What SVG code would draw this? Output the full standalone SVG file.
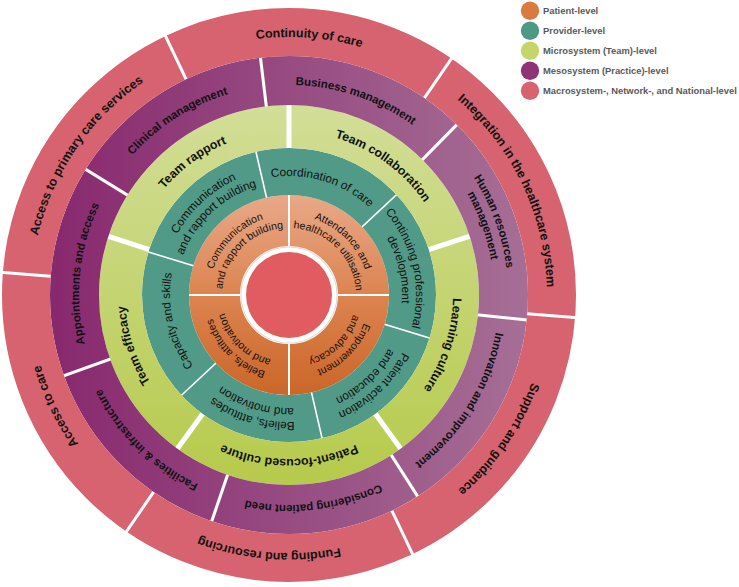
<svg xmlns="http://www.w3.org/2000/svg" width="739" height="587" viewBox="0 0 739 587">
<style>
.rO{fill:none;stroke:url(#gO);stroke-width:51}
.rT{fill:none;stroke:#519A88;stroke-width:47}
.rY{fill:none;stroke:url(#gY);stroke-width:43}
.rP{fill:none;stroke:url(#gP);stroke-width:49}
.rK{fill:none;stroke:#D6636F;stroke-width:48}
text{font-family:'Liberation Sans',Arial,sans-serif;fill:#111;text-anchor:middle}
.tO{font-size:10.6px}
.tT{font-size:11.8px}
.tY{font-size:12.4px;font-weight:bold}
.tP{font-size:11.5px;font-weight:bold}
.tK{font-size:12.5px;font-weight:bold}
.lg{font-size:9.4px;font-weight:bold;fill:#595959;text-anchor:start}
</style>
<defs>
<linearGradient id="gO" gradientUnits="userSpaceOnUse" x1="0" y1="195" x2="0" y2="395"><stop offset="0" stop-color="#E9A888"/><stop offset="0.5" stop-color="#DC8450"/><stop offset="1" stop-color="#CB6628"/></linearGradient>
<linearGradient id="gY" gradientUnits="userSpaceOnUse" x1="0" y1="105" x2="0" y2="485"><stop offset="0" stop-color="#D2DE97"/><stop offset="1" stop-color="#B6CA4B"/></linearGradient>
<linearGradient id="gP" gradientUnits="userSpaceOnUse" x1="50" y1="0" x2="530" y2="0"><stop offset="0" stop-color="#88286E"/><stop offset="1" stop-color="#A66F96"/></linearGradient>
<path id="wO" d="M0,-1.41 L-353.6,-355 L353.6,-355 Z"/>
<path id="wT" d="M0,-1.6 L-250,-434.6 L250,-434.6 Z"/>
<path id="wY" d="M0,-4.25 L-293.9,-408.8 L293.9,-408.8 Z"/>
<path id="wP" d="M0,-3.46 L-216.9,-454 L216.9,-454 Z"/>
<path id="wK" d="M0,-3 L-250,-436 L250,-436 Z"/>
<clipPath id="cO1"><use href="#wO" transform="translate(289,295) rotate(315)"/></clipPath>
<clipPath id="cO2"><use href="#wO" transform="translate(289,295) rotate(45)"/></clipPath>
<clipPath id="cO3"><use href="#wO" transform="translate(289,295) rotate(135)"/></clipPath>
<clipPath id="cO4"><use href="#wO" transform="translate(289,295) rotate(225)"/></clipPath>
<clipPath id="cT1"><use href="#wT" transform="translate(289,295) rotate(317)"/></clipPath>
<clipPath id="cT2"><use href="#wT" transform="translate(289,295) rotate(17)"/></clipPath>
<clipPath id="cT3"><use href="#wT" transform="translate(289,295) rotate(77)"/></clipPath>
<clipPath id="cT4"><use href="#wT" transform="translate(289,295) rotate(137)"/></clipPath>
<clipPath id="cT5"><use href="#wT" transform="translate(289,295) rotate(197)"/></clipPath>
<clipPath id="cT6"><use href="#wT" transform="translate(289,295) rotate(257)"/></clipPath>
<clipPath id="cY1"><use href="#wY" transform="translate(289,295) rotate(324)"/></clipPath>
<clipPath id="cY2"><use href="#wY" transform="translate(289,295) rotate(36)"/></clipPath>
<clipPath id="cY3"><use href="#wY" transform="translate(289,295) rotate(108)"/></clipPath>
<clipPath id="cY4"><use href="#wY" transform="translate(289,295) rotate(180)"/></clipPath>
<clipPath id="cY5"><use href="#wY" transform="translate(289,295) rotate(252)"/></clipPath>
<clipPath id="cP1"><use href="#wP" transform="translate(289,295) rotate(327.43)"/></clipPath>
<clipPath id="cP2"><use href="#wP" transform="translate(289,295) rotate(18.86)"/></clipPath>
<clipPath id="cP3"><use href="#wP" transform="translate(289,295) rotate(70.29)"/></clipPath>
<clipPath id="cP4"><use href="#wP" transform="translate(289,295) rotate(121.71)"/></clipPath>
<clipPath id="cP5"><use href="#wP" transform="translate(289,295) rotate(173.14)"/></clipPath>
<clipPath id="cP6"><use href="#wP" transform="translate(289,295) rotate(224.57)"/></clipPath>
<clipPath id="cP7"><use href="#wP" transform="translate(289,295) rotate(276)"/></clipPath>
<clipPath id="cK1"><use href="#wK" transform="translate(289,295) rotate(4.5)"/></clipPath>
<clipPath id="cK2"><use href="#wK" transform="translate(289,295) rotate(64.5)"/></clipPath>
<clipPath id="cK3"><use href="#wK" transform="translate(289,295) rotate(124.5)"/></clipPath>
<clipPath id="cK4"><use href="#wK" transform="translate(289,295) rotate(184.5)"/></clipPath>
<clipPath id="cK5"><use href="#wK" transform="translate(289,295) rotate(244.5)"/></clipPath>
<clipPath id="cK6"><use href="#wK" transform="translate(289,295) rotate(304.5)"/></clipPath>
<path id="r67" d="M-67,0 A67,67 0 0 1 67,0"/>
<path id="r80" d="M-80,0 A80,80 0 0 1 80,0"/>
<path id="r113" d="M-113,0 A113,113 0 0 1 113,0"/>
<path id="r119" d="M-119,0 A119,119 0 0 1 119,0"/>
<path id="r127" d="M-127,0 A127,127 0 0 1 127,0"/>
<path id="r164" d="M-164,0 A164,164 0 0 1 164,0"/>
<path id="r205" d="M-205,0 A205,205 0 0 1 205,0"/>
<path id="r210" d="M-210,0 A210,210 0 0 1 210,0"/>
<path id="r219" d="M-219,0 A219,219 0 0 1 219,0"/>
<path id="r258" d="M-258,0 A258,258 0 0 1 258,0"/>
</defs>

<g id="center">
<circle cx="289" cy="295" r="48.5" fill="#D8D8D8"/>
<circle cx="289" cy="295" r="47.5" fill="#FFFFFF"/>
<circle cx="289" cy="295" r="43" fill="#E05C60"/>
</g>

<g id="p-comm"><circle class="rO" cx="289" cy="295" r="74.5" clip-path="url(#cO1)"/>
<g transform="translate(289,295) rotate(315)"><text class="tO"><textPath href="#r80" startOffset="50%">Communication</textPath></text><text class="tO"><textPath href="#r67" startOffset="50%">and rapport building</textPath></text></g></g>
<g id="p-attend"><circle class="rO" cx="289" cy="295" r="74.5" clip-path="url(#cO2)"/>
<g transform="translate(289,295) rotate(45)"><text class="tO"><textPath href="#r80" startOffset="50%">Attendance and</textPath></text><text class="tO"><textPath href="#r67" startOffset="50%">healthcare utilisation</textPath></text></g></g>
<g id="p-empower"><circle class="rO" cx="289" cy="295" r="74.5" clip-path="url(#cO3)"/>
<g transform="translate(289,295) rotate(135)"><text class="tO"><textPath href="#r80" startOffset="50%">Empowerment</textPath></text><text class="tO"><textPath href="#r67" startOffset="50%">and advocacy</textPath></text></g></g>
<g id="p-beliefs"><circle class="rO" cx="289" cy="295" r="74.5" clip-path="url(#cO4)"/>
<g transform="translate(289,295) rotate(225)"><text class="tO"><textPath href="#r80" startOffset="50%">Beliefs, attitudes</textPath></text><text class="tO"><textPath href="#r67" startOffset="50%">and motivation</textPath></text></g></g>

<g id="v-comm"><circle class="rT" cx="289" cy="295" r="123.5" clip-path="url(#cT1)"/>
<g transform="translate(289,295) rotate(317)"><text class="tT"><textPath href="#r127" startOffset="50%">Communication</textPath></text><text class="tT"><textPath href="#r113" startOffset="50%">and rapport building</textPath></text></g></g>
<g id="v-coord"><circle class="rT" cx="289" cy="295" r="123.5" clip-path="url(#cT2)"/>
<g transform="translate(289,295) rotate(17)"><text class="tT"><textPath href="#r119" startOffset="50%">Coordination of care</textPath></text></g></g>
<g id="v-cpd"><circle class="rT" cx="289" cy="295" r="123.5" clip-path="url(#cT3)"/>
<g transform="translate(289,295) rotate(77)"><text class="tT"><textPath href="#r127" startOffset="50%">Continuing professional</textPath></text><text class="tT"><textPath href="#r113" startOffset="50%">development</textPath></text></g></g>
<g id="v-activation"><circle class="rT" cx="289" cy="295" r="123.5" clip-path="url(#cT4)"/>
<g transform="translate(289,295) rotate(137)"><text class="tT"><textPath href="#r127" startOffset="50%">Patient activation</textPath></text><text class="tT"><textPath href="#r113" startOffset="50%">and education</textPath></text></g></g>
<g id="v-beliefs"><circle class="rT" cx="289" cy="295" r="123.5" clip-path="url(#cT5)"/>
<g transform="translate(289,295) rotate(197)"><text class="tT"><textPath href="#r127" startOffset="50%">Beliefs, attitudes</textPath></text><text class="tT"><textPath href="#r113" startOffset="50%">and motivation</textPath></text></g></g>
<g id="v-capacity"><circle class="rT" cx="289" cy="295" r="123.5" clip-path="url(#cT6)"/>
<g transform="translate(289,295) rotate(257)"><text class="tT"><textPath href="#r119" startOffset="50%">Capacity and skills</textPath></text></g></g>

<g id="t-rapport"><circle class="rY" cx="289" cy="295" r="168.5" clip-path="url(#cY1)"/>
<g transform="translate(289,295) rotate(324)"><text class="tY"><textPath href="#r164" startOffset="50%">Team rapport</textPath></text></g></g>
<g id="t-collab"><circle class="rY" cx="289" cy="295" r="168.5" clip-path="url(#cY2)"/>
<g transform="translate(289,295) rotate(36)"><text class="tY"><textPath href="#r164" startOffset="50%">Team collaboration</textPath></text></g></g>
<g id="t-learning"><circle class="rY" cx="289" cy="295" r="168.5" clip-path="url(#cY3)"/>
<g transform="translate(289,295) rotate(108)"><text class="tY"><textPath href="#r164" startOffset="50%">Learning culture</textPath></text></g></g>
<g id="t-patient"><circle class="rY" cx="289" cy="295" r="168.5" clip-path="url(#cY4)"/>
<g transform="translate(289,295) rotate(180)"><text class="tY"><textPath href="#r164" startOffset="50%">Patient-focused culture</textPath></text></g></g>
<g id="t-efficacy"><circle class="rY" cx="289" cy="295" r="168.5" clip-path="url(#cY5)"/>
<g transform="translate(289,295) rotate(252)"><text class="tY"><textPath href="#r164" startOffset="50%">Team efficacy</textPath></text></g></g>

<g id="m-clinical"><circle class="rP" cx="289" cy="295" r="214.5" clip-path="url(#cP1)"/>
<g transform="translate(289,295) rotate(327.43)"><text class="tP"><textPath href="#r210" startOffset="50%">Clinical management</textPath></text></g></g>
<g id="m-business"><circle class="rP" cx="289" cy="295" r="214.5" clip-path="url(#cP2)"/>
<g transform="translate(289,295) rotate(18.86)"><text class="tP"><textPath href="#r210" startOffset="50%">Business management</textPath></text></g></g>
<g id="m-hr"><circle class="rP" cx="289" cy="295" r="214.5" clip-path="url(#cP3)"/>
<g transform="translate(289,295) rotate(70.29)"><text class="tP"><textPath href="#r219" startOffset="50%">Human resources</textPath></text><text class="tP"><textPath href="#r205" startOffset="50%">management</textPath></text></g></g>
<g id="m-innovation"><circle class="rP" cx="289" cy="295" r="214.5" clip-path="url(#cP4)"/>
<g transform="translate(289,295) rotate(121.71)"><text class="tP"><textPath href="#r210" startOffset="50%">Innovation and improvement</textPath></text></g></g>
<g id="m-patientneed"><circle class="rP" cx="289" cy="295" r="214.5" clip-path="url(#cP5)"/>
<g transform="translate(289,295) rotate(173.14)"><text class="tP"><textPath href="#r210" startOffset="50%">Considering patient need</textPath></text></g></g>
<g id="m-facilities"><circle class="rP" cx="289" cy="295" r="214.5" clip-path="url(#cP6)"/>
<g transform="translate(289,295) rotate(224.57)"><text class="tP"><textPath href="#r210" startOffset="50%">Facilities &amp; infrastructure</textPath></text></g></g>
<g id="m-appointments"><circle class="rP" cx="289" cy="295" r="214.5" clip-path="url(#cP7)"/>
<g transform="translate(289,295) rotate(276)"><text class="tP"><textPath href="#r210" startOffset="50%">Appointments and access</textPath></text></g></g>

<g id="n-continuity"><circle class="rK" cx="289" cy="295" r="263" clip-path="url(#cK1)"/>
<g transform="translate(289,295) rotate(4.5)"><text class="tK"><textPath href="#r258" startOffset="50%">Continuity of care</textPath></text></g></g>
<g id="n-integration"><circle class="rK" cx="289" cy="295" r="263" clip-path="url(#cK2)"/>
<g transform="translate(289,295) rotate(64.5)"><text class="tK"><textPath href="#r258" startOffset="50%">Integration in the healthcare system</textPath></text></g></g>
<g id="n-support"><circle class="rK" cx="289" cy="295" r="263" clip-path="url(#cK3)"/>
<g transform="translate(289,295) rotate(124.5)"><text class="tK"><textPath href="#r258" startOffset="50%">Support and guidance</textPath></text></g></g>
<g id="n-funding"><circle class="rK" cx="289" cy="295" r="263" clip-path="url(#cK4)"/>
<g transform="translate(289,295) rotate(184.5)"><text class="tK"><textPath href="#r258" startOffset="50%">Funding and resourcing</textPath></text></g></g>
<g id="n-access"><circle class="rK" cx="289" cy="295" r="263" clip-path="url(#cK5)"/>
<g transform="translate(289,295) rotate(244.5)"><text class="tK"><textPath href="#r258" startOffset="50%">Access to care</textPath></text></g></g>
<g id="n-primary"><circle class="rK" cx="289" cy="295" r="263" clip-path="url(#cK6)"/>
<g transform="translate(289,295) rotate(304.5)"><text class="tK"><textPath href="#r258" startOffset="50%">Access to primary care services</textPath></text></g></g>

<g id="connectors"></g>

<g id="legend">
<circle cx="530" cy="10.7" r="9.2" fill="#DA7A3E"/><text class="lg" x="543" y="14.2">Patient-level</text>
<circle cx="530" cy="30.7" r="9.2" fill="#4E9986"/><text class="lg" x="543" y="34.2">Provider-level</text>
<circle cx="530" cy="50.7" r="9.2" fill="#C5D56A"/><text class="lg" x="543" y="54.2">Microsystem  (Team)-level</text>
<circle cx="530" cy="70.7" r="9.2" fill="#8E3376"/><text class="lg" x="543" y="74.2">Mesosystem (Practice)-level</text>
<circle cx="530" cy="90.7" r="9.2" fill="#D6636F"/><text class="lg" x="543" y="94.2">Macrosystem-, Network-, and National-level</text>
</g>
</svg>
